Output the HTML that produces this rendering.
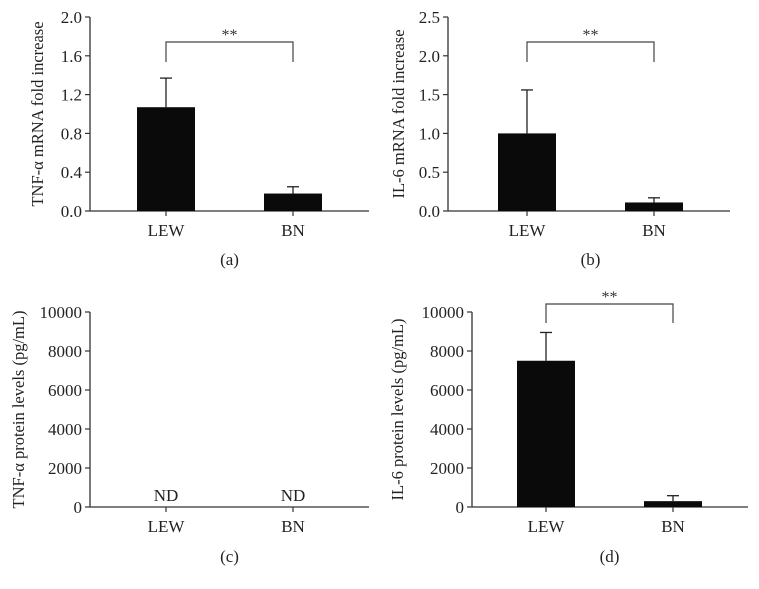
<!DOCTYPE html>
<html><head><meta charset="utf-8"><style>
body{margin:0;background:#fff;}
svg{display:block;font-family:"Liberation Serif",serif;}
</style></head><body>
<svg id="fig" width="759" height="589"></svg>
<script>
const categories = ["LEW","BN"];
const aValues = [1.07, 0.18];
const aErrors = [0.30, 0.07];
const aTicks = ["0.0","0.4","0.8","1.2","1.6","2.0"];
const bValues = [1.0, 0.11];
const bErrors = [0.56, 0.06];
const bTicks = ["0.0","0.5","1.0","1.5","2.0","2.5"];
const cValues = [null, null];
const cErrors = [null, null];
const cTicks = ["0","2000","4000","6000","8000","10000"];
const dValues = [7500, 300];
const dErrors = [1450, 280];
const dTicks = ["0","2000","4000","6000","8000","10000"];

const NS="http://www.w3.org/2000/svg";
const svg=document.getElementById('fig');
function mk(tag,attrs,parent,text){
  const e=document.createElementNS(NS,tag);
  for(const k in attrs)e.setAttribute(k,attrs[k]);
  if(text!==undefined)e.textContent=text;
  (parent||svg).appendChild(e);return e;
}
const panels=[
 {id:"a",ax:90,top:17,bot:211,xend:369,cx:[166,293],vals:aValues,errs:aErrors,ticks:aTicks,title:"TNF-α mRNA fold increase",tx:43,sig:true,brY:42,brBot:62,lab:"(a)",labY:265},
 {id:"b",ax:448,top:17,bot:211,xend:730,cx:[527,654],vals:bValues,errs:bErrors,ticks:bTicks,title:"IL-6 mRNA fold increase",tx:404,sig:true,brY:42,brBot:62,lab:"(b)",labY:265},
 {id:"c",ax:90,top:312,bot:507,xend:369,cx:[166,293],vals:cValues,errs:cErrors,ticks:cTicks,title:"TNF-α protein levels (pg/mL)",tx:24,sig:false,lab:"(c)",labY:562},
 {id:"d",ax:472,top:312,bot:507,xend:748,cx:[546,673],vals:dValues,errs:dErrors,ticks:dTicks,title:"IL-6 protein levels (pg/mL)",tx:403,sig:true,brY:304,brBot:323,lab:"(d)",labY:562}
];
panels.forEach(p=>{
  const g=mk('g',{});
  
  
  const tmax=parseFloat(p.ticks[p.ticks.length-1]);
  const y=v=>p.bot-(v/tmax)*(p.bot-p.top);
  const ya=mk('line',{x1:p.ax,y1:p.top,x2:p.ax,y2:p.bot,stroke:"#333","stroke-width":1.3},g);
  
  const xa=mk('line',{x1:p.ax,y1:p.bot,x2:p.xend,y2:p.bot,stroke:"#333","stroke-width":1.3},g);
  
  p.ticks.forEach(t=>{
    const v=parseFloat(t),yy=y(v);
    mk('line',{x1:p.ax-5,y1:yy,x2:p.ax,y2:yy,stroke:"#333","stroke-width":1.2},g);
    const tl=mk('text',{x:p.ax-8,y:yy+6,"text-anchor":"end","font-size":17,fill:"#222"},g,t);
    
  });
  categories.forEach((c,i)=>{
    const cx=p.cx[i];
    mk('line',{x1:cx,y1:p.bot,x2:cx,y2:p.bot+5,stroke:"#333","stroke-width":1.2},g);
    const cl=mk('text',{x:cx,y:p.bot+25,"text-anchor":"middle","font-size":17,fill:"#222"},g,c);
    
    const v=p.vals[i];
    if(v===null){
      const nd=mk('text',{x:cx,y:p.bot-6,"text-anchor":"middle","font-size":17,fill:"#222"},g,"ND");
      
      return;
    }
    const e=p.errs[i];
    const el=mk('line',{x1:cx,y1:y(v),x2:cx,y2:y(v+e),stroke:"#222","stroke-width":1.3},g);
    
    mk('line',{x1:cx-6,y1:y(v+e),x2:cx+6,y2:y(v+e),stroke:"#222","stroke-width":1.3},g);
    const b=mk('rect',{x:cx-29,y:y(v),width:58,height:p.bot-y(v),fill:"#0a0a0a"},g);
    
  });
  if(p.sig){
    const br=mk('path',{d:`M${p.cx[0]},${p.brBot}V${p.brY}H${p.cx[1]}V${p.brBot}`,fill:"none",stroke:"#444","stroke-width":1.2},g);
    
    const st=mk('text',{x:(p.cx[0]+p.cx[1])/2,y:p.brY-2,"text-anchor":"middle","font-size":16,fill:"#333"},g,"**");
    
  }
  const ty=(p.top+p.bot)/2;
  const tt=mk('text',{x:p.tx,y:ty,"text-anchor":"middle","font-size":16.5,fill:"#222",transform:`rotate(-90 ${p.tx} ${ty})`},g,p.title);
  
  const pl=mk('text',{x:(p.cx[0]+p.cx[1])/2,y:p.labY,"text-anchor":"middle","font-size":17,fill:"#222"},g,p.lab);
  
});
</script>
</body></html>
